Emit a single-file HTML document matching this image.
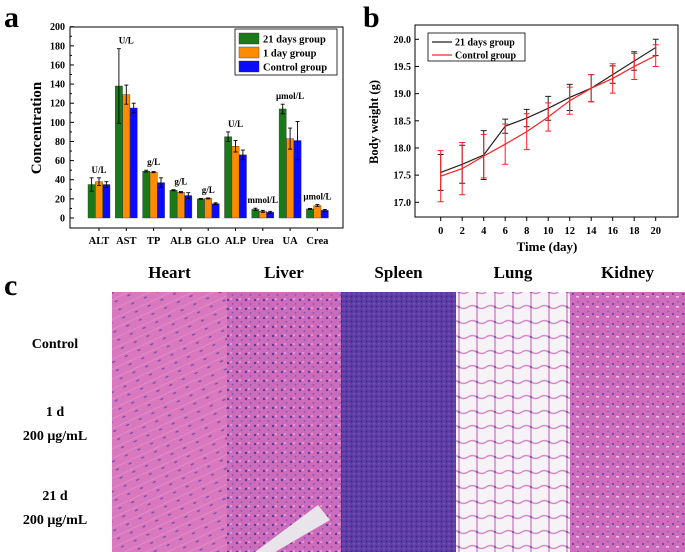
<!DOCTYPE html>
<html><head><meta charset="utf-8"><style>
html,body{margin:0;padding:0;background:#fff;}
svg{display:block;font-family:"Liberation Serif",serif;font-weight:bold;}
</style></head><body>
<svg id="fig" width="685" height="552" viewBox="0 0 685 552" xmlns="http://www.w3.org/2000/svg">
<defs>
<pattern id="pHeart" width="14" height="9" patternUnits="userSpaceOnUse" patternTransform="rotate(-25)"><rect width="14" height="9" fill="#d977bf"/><line x1="0" y1="4" x2="14" y2="4" stroke="#e293cc" stroke-width="0.8"/><ellipse cx="6" cy="7" rx="1.8" ry="0.8" fill="#7050a8"/></pattern>
<pattern id="pLiver" width="9" height="9" patternUnits="userSpaceOnUse"><rect width="9" height="9" fill="#cc6cbb"/><circle cx="3" cy="3" r="1.2" fill="#5a3ca0"/><circle cx="7.5" cy="7" r="0.9" fill="#7a52b0"/><rect x="5" y="1" width="2" height="2" fill="#df96d2"/></pattern>
<pattern id="pSpleen" width="5" height="5" patternUnits="userSpaceOnUse"><rect width="5" height="5" fill="#5e3ea6"/><circle cx="1.5" cy="1.5" r="0.9" fill="#35287f"/><circle cx="4" cy="3.8" r="0.7" fill="#8a5ec0"/></pattern>
<pattern id="pLung" width="18" height="15" patternUnits="userSpaceOnUse"><rect width="18" height="15" fill="#f3f0f3"/><path d="M0 7 Q4 4 9 7 T18 7 M9 0 V15" stroke="#cf6cbc" stroke-width="1.5" fill="none"/><circle cx="9" cy="7" r="1.2" fill="#5a3ca0"/></pattern>
<pattern id="pKidney" width="10" height="10" patternUnits="userSpaceOnUse"><rect width="10" height="10" fill="#cf6cbb"/><circle cx="3" cy="4" r="1" fill="#5a3ca0"/><rect x="6" y="6" width="3" height="1.5" fill="#eec2e6"/><circle cx="8" cy="1.5" r="0.8" fill="#7a52b0"/></pattern>
</defs>
<g id="panelA"></g>
<g id="panelB"></g>
<g id="panelC"></g>
</svg>
<script>
const NS="http://www.w3.org/2000/svg";
function mk(tag,attrs,parent,txt){const e=document.createElementNS(NS,tag);for(const k in attrs)e.setAttribute(k,attrs[k]);if(txt!==undefined)e.textContent=txt;parent.appendChild(e);return e;}

// ===== Panel a data =====
const catsA=["ALT","AST","TP","ALB","GLO","ALP","Urea","UA","Crea"];
const unitsA=["U/L","U/L","g/L","g/L","g/L","U/L","mmol/L","μmol/L","μmol/L"];
const seriesNamesA=["21 days group","1 day group","Control group"];
const g21=[35,138,49,29,20,85,9,114,9.5];
const g21err=[7,39,1,0.6,0.5,5,1.2,5,0.5];
const g1=[38,129,48,27,20.5,75,7,83,13];
const g1err=[4,10,0.6,0.6,0.5,6,1,11,1];
const gC=[35,115,37,23.5,15,66,6,81,8];
const gCerr=[3,5,5,3,0.8,5,1,20,1];
const yTicksA=[0,20,40,60,80,100,120,140,160,180,200];

// ===== Panel b data =====
const daysB=[0,2,4,6,8,10,12,14,16,18,20];
const w21=[17.55,17.7,17.87,18.4,18.55,18.73,18.93,19.1,19.35,19.6,19.85];
const w21err=[0.33,0.35,0.45,0.13,0.16,0.22,0.24,0.25,0.16,0.17,0.15];
const wC=[17.48,17.62,17.85,18.07,18.3,18.57,18.87,19.1,19.28,19.5,19.7];
const wCerr=[0.47,0.48,0.4,0.37,0.33,0.26,0.25,0.25,0.27,0.24,0.2];
const yTicksB=[17.0,17.5,18.0,18.5,19.0,19.5,20.0];

// ===== Panel a =====
(function(){
const g=document.getElementById("panelA");
const L=70,R=343,T=27,B=228,y0=218,yTop=26.7;
const ys=v=>y0-(v/200)*(y0-yTop);
const xc=i=>99+i*27.3;
mk("text",{x:4,y:27,"font-size":30,},g,"a");
mk("rect",{x:L,y:T,width:R-L,height:B-T,fill:"none",stroke:"#000","stroke-width":1,},g);
yTicksA.forEach(t=>{const y=ys(t);
 const tk=mk("line",{x1:L,y1:y,x2:L+4,y2:y,stroke:"#000"},g);
 
 const lb=mk("text",{x:L-5,y:y+3.5,"font-size":10,"text-anchor":"end"},g,String(t));
 
 if(t<200){const m=mk("line",{x1:L,y1:ys(t+10),x2:L+2,y2:ys(t+10),stroke:"#000"},g);}
});
const yt=mk("text",{x:0,y:0,"font-size":15,"text-anchor":"middle",transform:"translate(41,128) rotate(-90)"},g,"Concentration");

const series=[[g21,g21err,"#1a7a1a"],[g1,g1err,"#ff8c00"],[gC,gCerr,"#0a0aff"]];
catsA.forEach((c,i)=>{
 const cx=xc(i);
 let topMax=0;
 series.forEach((s,j)=>{
  const bx=cx-11+j*7.4, v=s[0][i], e=s[1][i];
  const r=mk("rect",{x:bx,y:ys(v),width:7.2,height:y0-ys(v),fill:s[2],stroke:"#333","stroke-width":0.4},g);
  
  const m=bx+3.6;
  const eb=mk("path",{d:`M${m} ${ys(v+e)}V${ys(v-e)}M${m-2} ${ys(v+e)}H${m+2}M${m-2} ${ys(v-e)}H${m+2}`,stroke:"#000","stroke-width":0.9,fill:"none"},g);
  
  topMax=Math.max(topMax,v+e);
 });
 const xl=mk("text",{x:cx,y:244,"font-size":10.5,"text-anchor":"middle"},g,c);
 
 const xt=mk("line",{x1:cx,y1:B,x2:cx,y2:B+3,stroke:"#000"},g);
 
 const ul=mk("text",{x:cx,y:ys(topMax)-5,"font-size":9,"text-anchor":"middle"},g,unitsA[i]);
 
});
const lg=mk("g",{},g);
mk("rect",{x:235,y:29,width:102,height:46,fill:"#fff",stroke:"#000","stroke-width":0.8},lg);
seriesNamesA.forEach((n,j)=>{
 const y=33+j*14;
 const sw=mk("rect",{x:239,y:y,width:20,height:11,fill:series[j][2],stroke:"#333","stroke-width":0.4},lg);
 
 const t=mk("text",{x:263,y:y+9.5,"font-size":10.5},lg,n);
 
});
})();

// ===== Panel b =====
(function(){
const g=document.getElementById("panelB");
const L=415,R=678,T=25,B=217;
const ys=v=>39.3+(20-v)/3*(202.3-39.3);
const xs=d=>440.7+d/20*(655.7-440.7);
mk("text",{x:363,y:27,"font-size":30,},g,"b");
mk("rect",{x:L,y:T,width:R-L,height:B-T,fill:"none",stroke:"#000","stroke-width":1,},g);
yTicksB.forEach(t=>{const y=ys(t);
 const tk=mk("line",{x1:L,y1:y,x2:L+4,y2:y,stroke:"#000"},g);
 
 const lb=mk("text",{x:L-4,y:y+3.5,"font-size":10,"text-anchor":"end"},g,t.toFixed(1));
 
});
daysB.forEach(d=>{const x=xs(d);
 const tk=mk("line",{x1:x,y1:B,x2:x,y2:B+4,stroke:"#000"},g);
 
 const lb=mk("text",{x:x,y:234,"font-size":10.5,"text-anchor":"middle"},g,String(d));
 
});
const xt=mk("text",{x:547,y:251,"font-size":13,"text-anchor":"middle"},g,"Time (day)");

const yt=mk("text",{x:0,y:0,"font-size":12.5,"text-anchor":"middle",transform:"translate(378,122) rotate(-90)"},g,"Body weight (g)");

[[w21,w21err,"#222","line-21-days"],[wC,wCerr,"#ff2020","line-control"]].forEach(s=>{
 s[0].forEach((v,i)=>{const x=xs(daysB[i]),e=s[1][i];
  const eb=mk("path",{d:`M${x} ${ys(v+e)}V${ys(v-e)}M${x-3} ${ys(v+e)}H${x+3}M${x-3} ${ys(v-e)}H${x+3}`,stroke:s[2],"stroke-width":1,fill:"none"},g);
  
 });
 const p=mk("polyline",{points:s[0].map((v,i)=>xs(daysB[i])+","+ys(v)).join(" "),fill:"none",stroke:s[2],"stroke-width":1.2},g);
 
});
const lg=mk("g",{},g);
mk("rect",{x:428,y:33,width:97,height:28,fill:"#fff",stroke:"#000","stroke-width":0.8},lg);
[["21 days group","#222"],["Control group","#ff2020"]].forEach((n,j)=>{
 const y=42+j*13;
 mk("line",{x1:432,y1:y,x2:452,y2:y,stroke:n[1],"stroke-width":1.2},lg);
 const t=mk("text",{x:455,y:y+3.5,"font-size":10},lg,n[0]);
 
});
})();

// ===== Panel c =====
(function(){
const g=document.getElementById("panelC");
const organs=["Heart","Liver","Spleen","Lung","Kidney"];
const pats=["pHeart","pLiver","pSpleen","pLung","pKidney"];
const colX=[112,227,341,456,570,685];
const rowY=[292,379,465,552];
mk("text",{x:4,y:295,"font-size":30,},g,"c");
organs.forEach((o,i)=>{
 const t=mk("text",{x:(colX[i]+colX[i+1])/2,y:278,"font-size":17,"text-anchor":"middle"},g,o);
 
 for(let r=0;r<3;r++){
  const im=mk("rect",{x:colX[i],y:rowY[r],width:colX[i+1]-colX[i],height:rowY[r+1]-rowY[r],fill:"url(#"+pats[i]+")"},g);
  
 }
});
mk("path",{d:"M255 552 L318 505 L330 520 L275 552 Z",fill:"#e8e4ea"},g);
mk("rect",{x:456,y:292,width:114,height:260,fill:"#fff",opacity:0.2},g);
const labels=[["Control",348],["1 d",416],["200 μg/mL",440],["21 d",500],["200 μg/mL",524]];
labels.forEach(l=>{
 const t=mk("text",{x:55,y:l[1],"font-size":14,"text-anchor":"middle","font-family":"Liberation Serif, serif"},g,l[0]);
 
});
})();
</script>
</body></html>
